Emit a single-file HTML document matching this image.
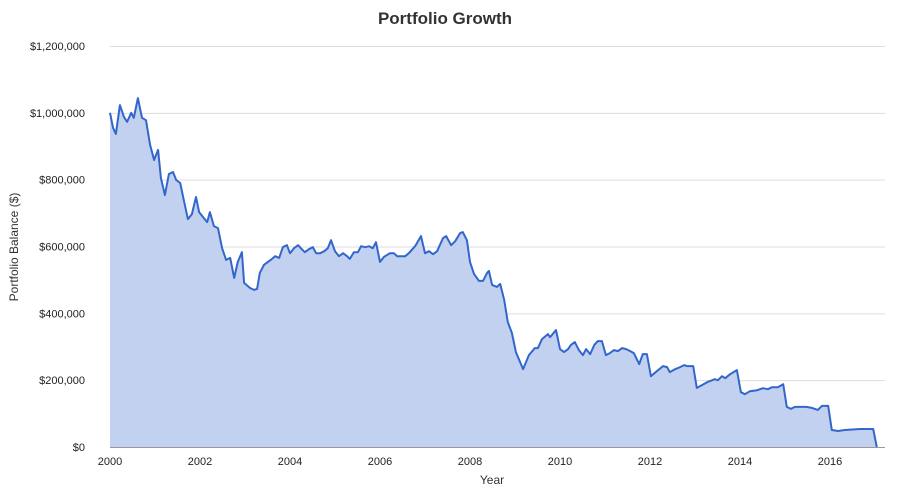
<!DOCTYPE html>
<html><head><meta charset="utf-8"><style>
body{margin:0;background:#fff;font-family:"Liberation Sans",Arial,sans-serif}
svg text{font-family:"Liberation Sans",Arial,sans-serif}
</style></head><body>
<svg id="chart" width="901" height="499" xmlns="http://www.w3.org/2000/svg">
<text x="445" y="24" text-anchor="middle" font-size="17" font-weight="bold" fill="#333">Portfolio Growth</text>
<g id="grid"></g>
<g id="yticks"></g>
<g id="xticks"></g>
<path id="area" fill="#c2d1ef" stroke="none"/>
<path id="line" fill="none" stroke="#3366cc" stroke-width="2" stroke-linejoin="round"/>
<text transform="translate(18,247) rotate(-90)" text-anchor="middle" font-size="12" fill="#333">Portfolio Balance ($)</text>
<text x="492" y="484" text-anchor="middle" font-size="12" fill="#333">Year</text>
</svg>
<script>
const years=[2000,2000.07,2000.13,2000.22,2000.31,2000.38,2000.47,2000.53,2000.62,2000.71,2000.8,2000.89,2000.98,2001.07,2001.13,2001.22,2001.31,2001.4,2001.47,2001.56,2001.64,2001.73,2001.82,2001.91,2001.98,2002.07,2002.16,2002.22,2002.31,2002.4,2002.49,2002.58,2002.67,2002.76,2002.84,2002.93,2002.98,2003.11,2003.2,2003.27,2003.33,2003.42,2003.51,2003.6,2003.67,2003.76,2003.84,2003.93,2004,2004.09,2004.18,2004.24,2004.33,2004.42,2004.51,2004.58,2004.67,2004.76,2004.84,2004.91,2005,2005.09,2005.18,2005.27,2005.33,2005.42,2005.51,2005.58,2005.67,2005.76,2005.84,2005.91,2006,2006.09,2006.22,2006.31,2006.38,2006.56,2006.64,2006.78,2006.91,2007,2007.09,2007.18,2007.27,2007.4,2007.47,2007.58,2007.67,2007.78,2007.84,2007.93,2008,2008.09,2008.2,2008.29,2008.38,2008.42,2008.49,2008.6,2008.67,2008.76,2008.84,2008.93,2009.02,2009.18,2009.31,2009.44,2009.51,2009.6,2009.73,2009.78,2009.91,2010,2010.09,2010.18,2010.24,2010.33,2010.42,2010.51,2010.58,2010.67,2010.76,2010.84,2010.93,2011.02,2011.11,2011.2,2011.29,2011.38,2011.47,2011.56,2011.64,2011.76,2011.84,2011.93,2012.02,2012.18,2012.29,2012.38,2012.44,2012.56,2012.62,2012.76,2012.82,2012.96,2013.04,2013.11,2013.27,2013.44,2013.51,2013.6,2013.67,2013.78,2013.93,2014.02,2014.11,2014.22,2014.38,2014.51,2014.62,2014.71,2014.84,2014.96,2015.04,2015.13,2015.22,2015.47,2015.6,2015.73,2015.82,2015.96,2016.04,2016.18,2016.33,2016.67,2016.96,2017.04];
const balances=[1000,955,937,1023,988,973,1000,985,1044,985,978,904,859,889,805,754,817,823,799,790,739,682,697,748,703,688,673,703,661,655,595,560,566,506,554,583,491,476,470,473,521,545,554,563,571,566,598,604,580,595,604,595,583,592,598,580,580,586,595,619,586,571,580,571,563,583,583,601,598,601,595,613,554,569,580,580,571,571,580,601,631,580,586,577,586,625,631,604,616,640,643,619,554,518,497,497,521,527,485,479,488,440,374,341,284,233,275,296,296,323,338,329,350,293,284,293,305,314,290,275,293,278,305,317,317,275,281,290,287,296,293,287,281,248,278,278,212,230,242,239,224,233,236,245,242,242,177,182,194,203,200,212,206,218,230,164,158,167,170,176,173,179,179,188,120,114,120,120,117,111,123,123,51,48,51,54,54,0];
const yTickValues=[0,200,400,600,800,1000,1200];
const yTickLabels=["$0","$200,000","$400,000","$600,000","$800,000","$1,000,000","$1,200,000"];
const xTickValues=[2000,2002,2004,2006,2008,2010,2012,2014,2016];
const X0=110,X1=885,Y0=447,Y1=46;
const xs=y=>X0+(y-2000)*45;
const ys=v=>Y0-(v/1200)*(Y0-Y1);
const NS="http://www.w3.org/2000/svg";
const grid=document.getElementById('grid'),yt=document.getElementById('yticks'),xt=document.getElementById('xticks');
yTickValues.forEach((v,i)=>{
 const l=document.createElementNS(NS,'line');
 
 
 l.setAttribute('x1',X0);l.setAttribute('x2',X1);l.setAttribute('y1',ys(v)+.5);l.setAttribute('y2',ys(v)+.5);
 l.setAttribute('stroke',v===0?'#999':'#ddd');l.setAttribute('stroke-width','1');
 grid.appendChild(l);
 const t=document.createElementNS(NS,'text');
 
 
 t.setAttribute('x',85);t.setAttribute('y',ys(v)+4);t.setAttribute('text-anchor','end');t.setAttribute('font-size','11');t.setAttribute('fill','#222');
 t.textContent=yTickLabels[i];yt.appendChild(t);
});
xTickValues.forEach(v=>{
 const t=document.createElementNS(NS,'text');
 
 
 t.setAttribute('x',xs(v));t.setAttribute('y',465);t.setAttribute('text-anchor','middle');t.setAttribute('font-size','11');t.setAttribute('fill','#222');
 t.textContent=String(v);xt.appendChild(t);
});
let d='';
years.forEach((y,i)=>{d+=(i?'L':'M')+xs(y).toFixed(1)+','+ys(balances[i]).toFixed(1);});
document.getElementById('line').setAttribute('d',d);
document.getElementById('area').setAttribute('d',d+'L'+xs(years[years.length-1]).toFixed(1)+','+Y0+'L'+xs(years[0]).toFixed(1)+','+Y0+'Z');
</script>
</body></html>
